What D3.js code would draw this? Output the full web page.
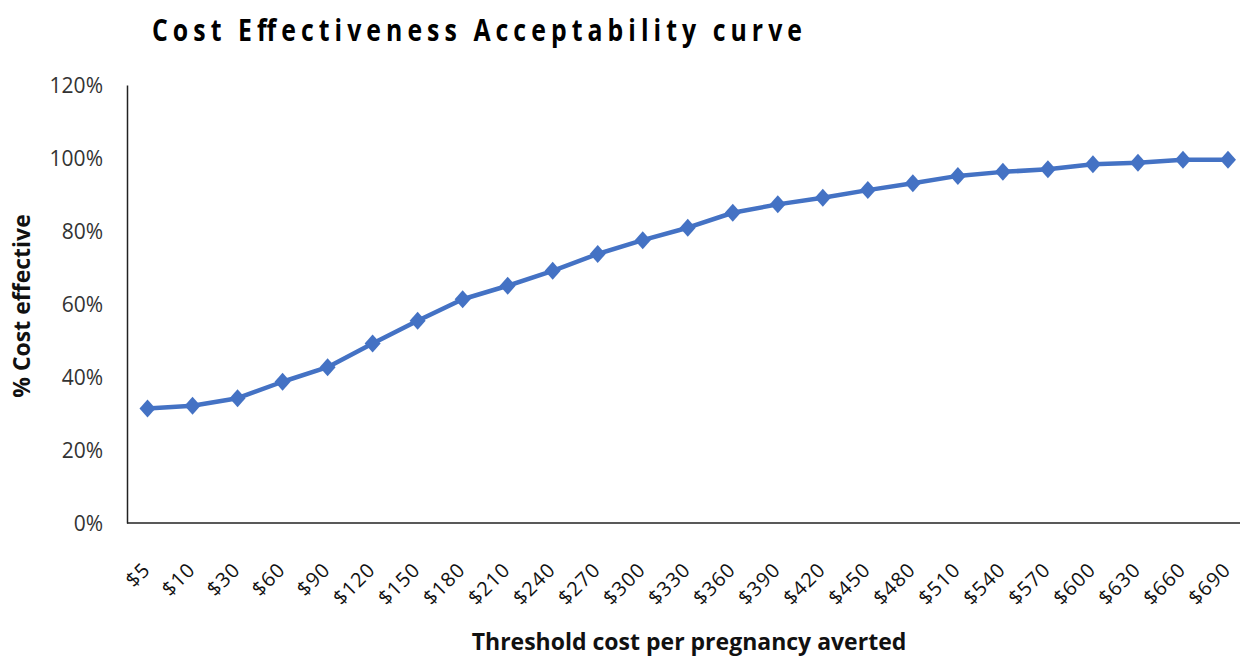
<!DOCTYPE html>
<html>
<head>
<meta charset="utf-8">
<script src="https://cdn.jsdelivr.net/npm/d3@7"></script>
<style>
  html, body { margin: 0; padding: 0; background: #fff; }
  svg { display: block; }
</style>
</head>
<body>
<svg id="chart" width="1240" height="657"></svg>
<script>
// Threshold values (willingness to pay per pregnancy averted)
const thresholds = ["$5", "$10", "$30", "$60", "$90", "$120", "$150", "$180", "$210", "$240",
  "$270", "$300", "$330", "$360", "$390", "$420", "$450", "$480", "$510", "$540",
  "$570", "$600", "$630", "$660", "$690"];

// Probability of being cost effective at each threshold (%)
const pctCostEffective = [31.4, 32.1, 34.2, 38.7, 42.7, 49.2, 55.4, 61.3, 65.0, 69.1,
  73.7, 77.5, 80.9, 85.0, 87.3, 89.1, 91.2, 93.1, 95.1, 96.2,
  96.9, 98.3, 98.7, 99.5, 99.5];

const yTicks = [0, 20, 40, 60, 80, 100, 120];

const svg = d3.select("#chart");
const plotLeft = 125, plotTop = 85, plotBottom = 523;
const font = "'Open Sans', 'Liberation Sans', sans-serif";

const x = d3.scaleBand()
  .domain(thresholds)
  .range([plotLeft, plotLeft + 25 * 45.02])
  .padding(0);

const y = d3.scaleLinear()
  .domain([0, 120])
  .range([plotBottom, plotTop]);

const cx = d => x(d) + x.bandwidth() / 2;

// Title: condensed glyphs with open letter spacing
const titleScale = 0.8;
svg.append("text")
  .attr("transform", `translate(152,41) scale(${titleScale},1)`)
  .attr("x", 0).attr("y", 0)
  .attr("textLength", 650 / titleScale)
  .attr("lengthAdjust", "spacing")
  .style("font-family", font)
  .style("font-weight", "bold")
  .style("font-size", "31px")
  .attr("fill", "#000")
  .text("Cost Effectiveness Acceptability curve");

// Y axis
const yAxis = svg.append("g")
  .attr("transform", `translate(${plotLeft + 2},0)`)
  .call(d3.axisLeft(y).tickValues(yTicks).tickSize(0).tickPadding(24)
    .tickFormat(d => d + "%"));
yAxis.select(".domain").attr("stroke", "#222").attr("stroke-width", 1.5);
yAxis.selectAll("text")
  .attr("dy", "0.35em")
  .style("font-family", font)
  .style("font-size", "21px")
  .attr("fill", "#333");

// X axis
const xAxis = svg.append("g")
  .attr("transform", `translate(0,${plotBottom})`)
  .call(d3.axisBottom(x).tickSize(0).tickPadding(0));
xAxis.select(".domain").attr("stroke", "#222").attr("stroke-width", 1.5)
  .attr("d", `M${plotLeft + 2},0H1240`);
xAxis.selectAll(".tick text")
  .attr("text-anchor", "end")
  .attr("dy", 0)
  .attr("transform", "translate(4,48) rotate(-45)")
  .style("font-family", font)
  .style("font-size", "20px")
  .style("letter-spacing", "1px")
  .attr("fill", "#111");

// Axis titles
svg.append("text")
  .attr("transform", `translate(30,${y(60) + 2}) rotate(-90)`)
  .attr("text-anchor", "middle")
  .style("font-family", font)
  .style("font-weight", "bold")
  .style("font-size", "23px")
  .attr("fill", "#111")
  .text("% Cost effective");

svg.append("text")
  .attr("x", 689).attr("y", 650)
  .attr("text-anchor", "middle")
  .style("font-family", font)
  .style("font-weight", "bold")
  .style("font-size", "23px")
  .attr("fill", "#111")
  .text("Threshold cost per pregnancy averted");

// Curve
const series = thresholds.map((t, i) => ({ t, v: pctCostEffective[i] }));
const blue = "#4472C4";

svg.append("path")
  .datum(series)
  .attr("fill", "none")
  .attr("stroke", blue)
  .attr("stroke-width", 4.5)
  .attr("stroke-linejoin", "round")
  .attr("d", d3.line().x(d => cx(d.t)).y(d => y(d.v)));

// Diamond markers
svg.append("g").selectAll("path")
  .data(series)
  .join("path")
  .attr("transform", d => `translate(${cx(d.t)},${y(d.v)})`)
  .attr("d", "M0,-9L8,0L0,9L-8,0Z")
  .attr("fill", blue);
</script>
</body>
</html>
